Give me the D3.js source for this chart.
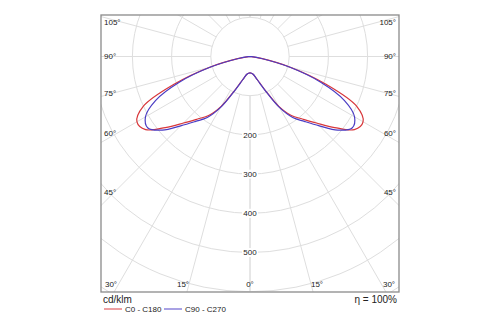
<!DOCTYPE html>
<html>
<head>
<meta charset="utf-8">
<script src="https://cdn.jsdelivr.net/npm/d3@7"></script>
<style>
  html, body { margin: 0; padding: 0; background: #fff; }
  svg { display: block; font-family: "Liberation Sans", Arial, sans-serif; }
</style>
</head>
<body>
<svg id="chart" width="500" height="325"></svg>
<script>
// Gamma angles (degrees from nadir) at which intensities are given
const gammaAngles = [0, 5, 10, 15, 20, 25, 30, 35, 40, 45, 50, 55, 60, 65, 70, 75, 80, 85, 90];
// Luminous intensity, cd/klm, C0 - C180 plane
const c0c180 = [42, 43, 46, 55, 71, 100, 147, 184, 208, 240, 282, 325, 333, 300, 205, 108, 32, 4, 0];
// Luminous intensity, cd/klm, C90 - C270 plane
const c90c270 = [42, 43, 46, 55, 72, 102, 150, 190, 216, 250, 292, 318, 308, 266, 192, 104, 30, 4, 0];

const ringValues = [100, 200, 300, 400, 500, 600, 700];
const ringLabels = ["200", "300", "400", "500"];
const rayAngles = d3.range(0, 181, 15);
const sideLabels = ["105°", "90°", "75°", "60°", "45°"];
const bottomLabels = ["30°", "15°", "0°", "15°", "30°"];
const seriesNames = ["C0 - C180", "C90 - C270"];
const unitLabel = "cd/klm";
const efficiencyLabel = "η = 100%";

const svg = d3.select("#chart");
const frame = { x0: 101, y0: 15, x1: 399, y1: 292 };
const cx = 250, cy = 56.5;

const r = d3.scaleLinear().domain([0, 100]).range([0, 39.2]);
const rad = d => d * Math.PI / 180;

svg.append("defs").append("clipPath").attr("id", "frameClip")
  .append("rect")
  .attr("x", frame.x0).attr("y", frame.y0)
  .attr("width", frame.x1 - frame.x0).attr("height", frame.y1 - frame.y0);

const plot = svg.append("g").attr("clip-path", "url(#frameClip)");
const g = plot.append("g").attr("transform", `translate(${cx},${cy})`);

// grid rings
g.selectAll("circle.ring").data(ringValues).join("circle")
  .attr("class", "ring")
  .attr("r", d => r(d))
  .attr("fill", "none")
  .attr("stroke", "#dedede")
  .attr("stroke-width", 1);

// grid rays, starting at the first ring
const rayLen = 400;
[1, -1].forEach(side => {
  g.selectAll(null).data(rayAngles).join("line")
    .attr("x1", d => side * r(100) * Math.sin(rad(d)))
    .attr("y1", d => r(100) * Math.cos(rad(d)))
    .attr("x2", d => side * rayLen * Math.sin(rad(d)))
    .attr("y2", d => rayLen * Math.cos(rad(d)))
    .attr("stroke", "#dedede")
    .attr("stroke-width", 1);
});

// intensity curves, mirrored about the nadir
function curvePoints(values) {
  const right = gammaAngles.map((gm, i) => [Math.PI - rad(gm), r(values[i])]).reverse();
  const left = gammaAngles.map((gm, i) => [Math.PI + rad(gm), r(values[i])]).slice(1);
  return right.concat(left);
}
const radial = d3.lineRadial()
  .angle(d => d[0]).radius(d => d[1])
  .curve(d3.curveCatmullRom.alpha(0.5));

const series = [
  { name: seriesNames[0], values: c0c180, color: "#d8363a" },
  { name: seriesNames[1], values: c90c270, color: "#4a3cc4" }
];
series.forEach(s => {
  g.append("path")
    .attr("d", radial(curvePoints(s.values)))
    .attr("fill", "none")
    .attr("stroke", s.color)
    .attr("stroke-width", 1.2);
});

// ring value labels along the nadir
g.selectAll("g.rlab").data(ringLabels).join("g")
  .attr("class", "rlab")
  .attr("transform", d => `translate(0,${r(+d)})`)
  .each(function(d) {
    const t = d3.select(this);
    t.append("rect").attr("x", -8).attr("y", -4.5).attr("width", 16).attr("height", 9).attr("fill", "#fff");
    t.append("text").attr("text-anchor", "middle").attr("dy", "0.35em")
      .attr("font-size", 8).attr("fill", "#222").text(d);
  });

// frame
svg.append("rect")
  .attr("x", frame.x0).attr("y", frame.y0)
  .attr("width", frame.x1 - frame.x0).attr("height", frame.y1 - frame.y0)
  .attr("fill", "none").attr("stroke", "#8a8a8a").attr("stroke-width", 1.3);

// angle labels on the side edges
const sideY = [22, 56, 93, 133, 192];
sideLabels.forEach((lab, i) => {
  svg.append("text").attr("x", frame.x0 + 3).attr("y", sideY[i]).attr("dy", "0.35em")
    .attr("font-size", 8).attr("fill", "#222").text(lab);
  svg.append("text").attr("x", frame.x1 - 3).attr("y", sideY[i]).attr("dy", "0.35em")
    .attr("text-anchor", "end").attr("font-size", 8).attr("fill", "#222").text(lab);
});

// angle labels along the bottom edge
const bottomX = [111, 183, 250, 317, 389];
bottomLabels.forEach((lab, i) => {
  svg.append("text").attr("x", bottomX[i]).attr("y", 284).attr("dy", "0.35em")
    .attr("text-anchor", "middle").attr("font-size", 8).attr("fill", "#222").text(lab);
});

// unit and efficiency
svg.append("text").attr("x", 103).attr("y", 299).attr("dy", "0.35em")
  .attr("font-size", 10).attr("fill", "#222").text(unitLabel);
svg.append("text").attr("x", 397).attr("y", 299).attr("dy", "0.35em")
  .attr("text-anchor", "end").attr("font-size", 10).attr("fill", "#222").text(efficiencyLabel);

// legend
const legendX = [104, 164];
series.forEach((s, i) => {
  svg.append("line").attr("x1", legendX[i]).attr("x2", legendX[i] + 18)
    .attr("y1", 309).attr("y2", 309)
    .attr("stroke", s.color).attr("stroke-opacity", 0.6).attr("stroke-width", 1.6);
  svg.append("text").attr("x", legendX[i] + 21).attr("y", 309).attr("dy", "0.35em")
    .attr("font-size", 8).attr("fill", "#222").text(s.name);
});
</script>
</body>
</html>
